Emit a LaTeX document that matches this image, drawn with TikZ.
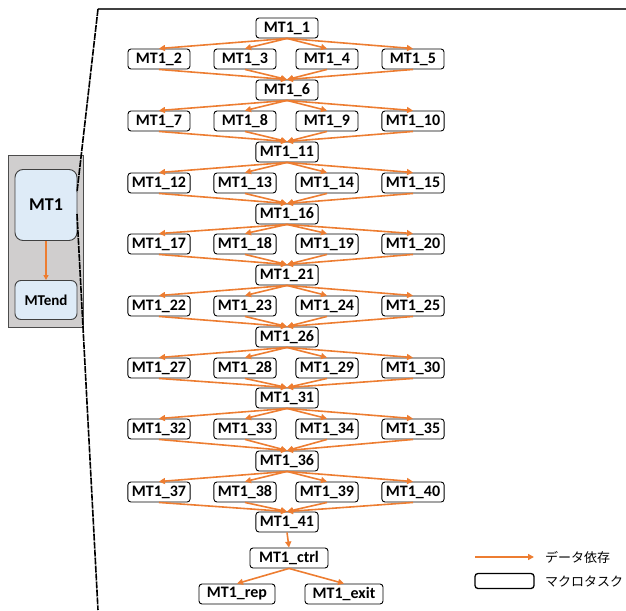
\documentclass[tikz,border=0pt]{standalone}
\usepackage{fontspec}
\setmainfont{Carlito}
\newfontfamily\jp{Noto Sans CJK JP}
\usetikzlibrary{arrows.meta}
\definecolor{org}{HTML}{ED7D31}
\definecolor{lblue}{HTML}{DEEBF7}
\definecolor{panelgray}{HTML}{D0CECE}
\begin{document}
\begin{tikzpicture}[x=1pt,y=-1pt,
 task/.style={draw=black, line width=0.9pt, rounded corners=3pt, fill=white,
   minimum width=62pt, minimum height=20pt, inner xsep=4pt, inner ysep=0pt,
   font=\fontsize{16}{16}\selectfont\bfseries},
 dep/.style={draw=org, line width=1.6pt, -{Triangle[length=6pt,width=6pt]}},
 bigtask/.style={draw=black!75, line width=0.9pt, fill=lblue, minimum width=62pt, font=\bfseries},
 zoomline/.style={draw=black, line width=1.6pt, dash pattern=on 7pt off 1pt},
 legtext/.style={anchor=west, font=\jp\fontsize{13}{13}\selectfont, inner sep=0pt},
]
\useasboundingbox (0,0) rectangle (626,610);

% left panel
\draw[draw=black!70, fill=panelgray, line width=0.8pt] (8,155) rectangle (83,327);
\node[bigtask, rounded corners=8pt, minimum height=71pt, font=\fontsize{18}{18}\selectfont\bfseries] (mt1) at (46,205) {MT1};
\node[bigtask, rounded corners=6pt, minimum height=39pt, font=\fontsize{15}{15}\selectfont\bfseries] (mtend) at (46,300) {MTend};
\draw[draw=org, line width=1.3pt, -{Triangle[length=5pt,width=5pt]}] (mt1.south) -- (mtend.north);

% zoom frame
\coordinate (ft) at (98,9);
\coordinate (fr) at (626,9);
\coordinate (fb) at (98,610);
\coordinate (zt) at (77,192);
\coordinate (zb) at (77,214);
\draw[black!75, line width=1.2pt] (ft) -- (fr);
\draw[zoomline] (ft) -- (zt);
\draw[zoomline] (zb) -- (fb);

% hub nodes
\foreach \j/\y in {0/28,1/90,2/152,3/214,4/275,5/337,6/398,7/461,8/522}{
  \pgfmathtruncatemacro{\k}{5*\j+1}
  \node[task] (n\k) at (287,\y) {MT1\_\k};
}
% child nodes and connectors
\foreach \j/\y in {0/59,1/121,2/183,3/244,4/306,5/368,6/429,7/492}{
  \pgfmathtruncatemacro{\h}{5*\j+1}
  \pgfmathtruncatemacro{\nh}{5*\j+6}
  \foreach \c/\x in {1/159,2/245,3/327,4/413}{
    \pgfmathtruncatemacro{\k}{5*\j+1+\c}
    \node[task] (n\k) at (\x,\y) {MT1\_\k};
    \draw[dep] (n\h.south) -- (n\k.north);
    \draw[dep] (n\k.south) -- (n\nh.north);
  }
}

\node[task, minimum width=78pt] (ctrl) at (289,558) {MT1\_ctrl};
\node[task, minimum width=76pt] (rep) at (237,594) {MT1\_rep};
\node[task, minimum width=78pt] (exit) at (344,594) {MT1\_exit};
\draw[dep] (n41.south) -- (ctrl.north);
\draw[dep] (ctrl.south) -- (rep.north);
\draw[dep] (ctrl.south) -- (exit.north);

% legend
\coordinate (la) at (475,557);
\coordinate (lb) at (534,557);
\draw[dep] (la) -- (lb);
\node[legtext] (l1) at (545,557) {データ依存};
\node[draw=black, line width=1.3pt, rounded corners=3pt, minimum width=59pt, minimum height=15pt, inner sep=0pt] (lbox) at (504.5,581) {};
\node[legtext] (l2) at (545,581) {マクロタスク};
\end{tikzpicture}
\end{document}
